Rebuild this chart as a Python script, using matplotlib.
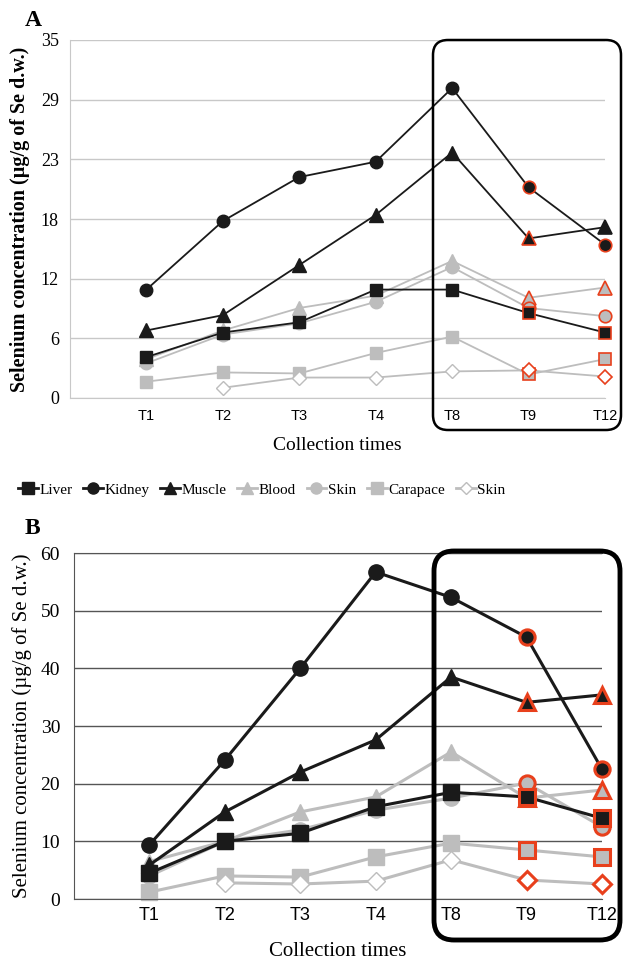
import numpy as np
import matplotlib
matplotlib.use('Agg')
from matplotlib import pyplot as plt
from matplotlib.patches import FancyBboxPatch
from matplotlib.lines import Line2D

times = ['T1', 'T2', 'T3', 'T4', 'T8', 'T9', 'T12']
nan = np.nan

# panel A values (ug/g Se d.w.)
a_liver = [4.0, 6.4, 7.4, 10.6, 10.6, 8.3, 6.4]
a_kidney = [10.6, 17.3, 21.6, 23.1, 30.3, 20.6, 15.0]
a_muscle = [6.6, 8.1, 13.0, 17.9, 24.0, 15.6, 16.7]
a_blood = [3.8, 6.6, 8.8, 10.0, 13.4, 9.8, 10.8]
a_skin = [3.4, 6.2, 7.3, 9.4, 12.8, 8.8, 8.0]
a_carapace = [1.6, 2.5, 2.4, 4.4, 6.0, 2.3, 3.8]
a_skin2 = [nan, 1.0, 2.0, 2.0, 2.6, 2.7, 2.1]

# panel B values
b_liver = [4.5, 10.0, 11.4, 16.0, 18.5, 17.7, 14.0]
b_kidney = [9.4, 24.1, 40.0, 56.7, 52.3, 45.4, 22.5]
b_muscle = [5.9, 15.1, 22.0, 27.6, 38.5, 34.1, 35.4]
b_blood = [6.5, 10.0, 15.1, 17.7, 25.5, 17.5, 18.9]
b_skin = [4.0, 10.0, 12.0, 15.4, 17.5, 20.1, 12.5]
b_carapace = [1.2, 4.0, 3.8, 7.3, 9.7, 8.5, 7.3]
b_skin2 = [nan, 2.8, 2.6, 3.1, 6.8, 3.3, 2.6]

names = ['Liver', 'Kidney', 'Muscle', 'Blood', 'Skin', 'Carapace', 'Skin']
markers = ['s', 'o', '^', '^', 'o', 's', 'D']
dark = '#1a1a1a'
grey = '#bdbdbd'
red = '#e8401c'
colors = [dark, dark, dark, grey, grey, grey, grey]
faces = [dark, dark, dark, grey, grey, grey, 'white']

x = np.arange(1, 8)

fig = plt.figure(figsize=(6.23, 9.63), dpi=100)
serif = 'Liberation Serif'
sans = 'Liberation Sans'


def draw(ax, series, lw, ms, mew_red, no_red):
    order = [3, 4, 5, 6, 0, 1, 2]
    for i in order:
        y = np.array(series[i], dtype=float)
        msz = ms * (0.8 if markers[i] == 'D' else 1.0) * (1.1 if markers[i] == '^' else 1.0)
        ax.plot(x, y, color=colors[i], lw=lw, marker=markers[i], ms=msz,
                mfc=faces[i], mec=colors[i], markevery=[0, 1, 2, 3, 4],
                zorder=3 if colors[i] == dark else 2, clip_on=False)
        for j in [5, 6]:
            ec = colors[i] if (i, j) in no_red else red
            ax.plot(x[j], y[j], ls='none', marker=markers[i], ms=msz,
                    mfc=faces[i], mec=ec, mew=mew_red, clip_on=False,
                    zorder=4 if colors[i] == dark else 3)


# ---- panel A ----
axA = fig.add_axes([70 / 623, 1 - 398 / 963, 535 / 623, 358 / 963])
seriesA = [a_liver, a_kidney, a_muscle, a_blood, a_skin, a_carapace, a_skin2]
draw(axA, seriesA, 1.3, 9, 1.2, [(2, 6)])
axA.set_xlim(0, 7)
axA.set_ylim(0, 35)
yt = np.linspace(0, 35, 7)
axA.set_yticks(yt)
axA.set_yticklabels(['0', '6', '12', '18', '23', '29', '35'], fontfamily=serif, fontsize=13)
axA.set_xticks(x)
axA.set_xticklabels(times, fontfamily=sans, fontsize=10.5)
axA.tick_params(length=0, pad=8)
axA.grid(axis='y', color='#c8c8c8', lw=1)
axA.set_axisbelow(True)
for s in ['top', 'right']:
    axA.spines[s].set_visible(False)
axA.spines['left'].set_color('#c8c8c8')
axA.spines['bottom'].set_color('#c8c8c8')
axA.set_xlabel('Collection times', fontfamily=serif, fontsize=14, labelpad=10)
axA.set_ylabel('Selenium concentration (µg/g of Se d.w.)', fontfamily=serif,
               fontsize=14.5, fontweight='bold', labelpad=8)
fig.text(25 / 623, 1 - 21 / 963, 'A', fontfamily=serif, fontsize=17,
         fontweight='bold', va='center', ha='left')

boxA = FancyBboxPatch((4.33, 5.33), 1.88, 3.90,
                      boxstyle='round,pad=0,rounding_size=0.15',
                      transform=fig.dpi_scale_trans, fill=False,
                      ec='black', lw=1.8, zorder=10)
fig.patches.append(boxA)

# ---- legend ----
handles = []
for i in range(7):
    handles.append(Line2D([], [], color=colors[i], lw=2, marker=markers[i],
                          ms=8 if markers[i] != 'D' else 6,
                          mfc=faces[i], mec=colors[i]))
fig.legend(handles, names, loc='center', bbox_to_anchor=(0.42, 1 - 490 / 963),
           ncol=7, frameon=False, prop={'family': serif, 'size': 11},
           handlelength=1.3, handletextpad=0.1, columnspacing=0.7)

# ---- panel B ----
axB = fig.add_axes([74 / 623, 1 - 899 / 963, 528 / 623, 346 / 963])
seriesB = [b_liver, b_kidney, b_muscle, b_blood, b_skin, b_carapace, b_skin2]
draw(axB, seriesB, 2.2, 11, 2.2, [])
axB.set_xlim(0, 7)
axB.set_ylim(0, 60)
axB.set_yticks(np.arange(0, 61, 10))
axB.set_yticklabels([str(v) for v in range(0, 61, 10)], fontfamily=serif, fontsize=14)
axB.set_xticks(x)
axB.set_xticklabels(times, fontfamily=sans, fontsize=13)
axB.tick_params(length=0, pad=6)
axB.tick_params(axis='y', pad=10)
axB.grid(axis='y', color='#555555', lw=1)
axB.set_axisbelow(True)
axB.spines['right'].set_visible(False)
axB.spines['top'].set_color('#555555')
axB.spines['left'].set_color('#555555')
axB.spines['bottom'].set_color('#555555')
axB.set_xlabel('Collection times', fontfamily=serif, fontsize=15, labelpad=13)
axB.set_ylabel('Selenium concentration (µg/g of Se d.w.)', fontfamily=serif,
               fontsize=15, labelpad=6)
fig.text(25 / 623, 1 - 528 / 963, 'B', fontfamily=serif, fontsize=17,
         fontweight='bold', va='center', ha='left')

boxB = FancyBboxPatch((4.34, 0.23), 1.86, 3.89,
                      boxstyle='round,pad=0,rounding_size=0.2',
                      transform=fig.dpi_scale_trans, fill=False,
                      ec='black', lw=3.5, zorder=10)
fig.patches.append(boxB)

fig.savefig('out.png', dpi=100)
